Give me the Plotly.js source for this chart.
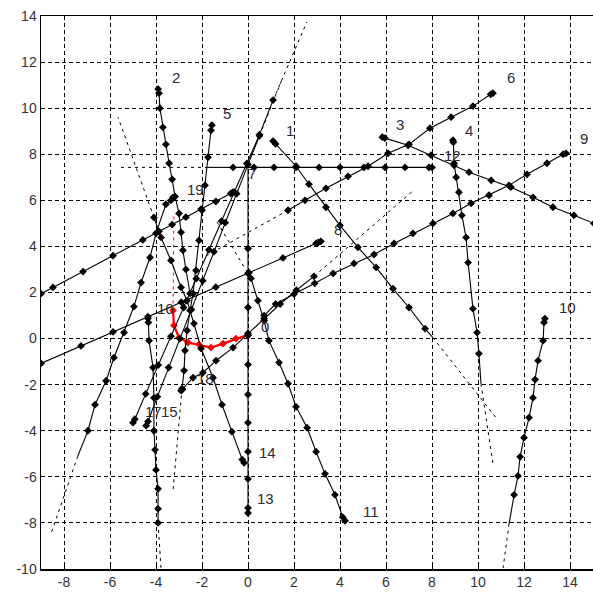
<!DOCTYPE html>
<html><head><meta charset="utf-8">
<script src="https://cdn.plot.ly/plotly-3.0.1.min.js"></script>
<style>html,body{margin:0;padding:0;background:#fff}#chart{width:593px;height:595px}</style>
</head><body><div id="chart"></div>
<script>
// ---- track data (x, y in axis units) ----
const track0X = [0, -0.52, -1.09, -1.61, -2.13, -2.61, -3.0, -3.22, -3.26];
const track0Y = [0.17, 0.0, -0.22, -0.39, -0.26, -0.17, 0.04, 0.57, 1.22];
const pred0X = [-3.26, -3.22];
const pred0Y = [1.22, 5.48];

const track1X = [1.09, 1.2, 2.09, 2.65, 3.39, 4.0, 4.78, 5.57, 6.30, 7.0, 7.70];
const track1Y = [8.57, 8.45, 7.48, 6.70, 5.70, 4.91, 3.96, 3.09, 2.17, 1.35, 0.43];
const tail1X = [7.70, 8.04];
const tail1Y = [0.43, 0.04];
const pred1X = [8.04, 10.78];
const pred1Y = [0.04, -3.43];

const track2X = [-3.91, -3.87, -3.83, -3.70, -3.57, -3.43, -3.30, -3.17, -3.0, -2.91, -2.83, -2.70, -2.52];
const track2Y = [10.83, 10.65, 10.0, 9.17, 8.43, 7.61, 6.91, 6.17, 5.43, 4.61, 3.83, 3.0, 1.96];

const track3X = [5.84, 5.95, 6.96, 7.96, 8.96, 9.61, 10.57, 11.43, 12.39, 13.26, 14.17, 15.04];
const track3Y = [8.74, 8.70, 8.39, 7.96, 7.52, 7.22, 6.87, 6.57, 6.13, 5.70, 5.35, 5.0];

const track4X = [8.91, 8.93, 8.96, 9.05, 9.17, 9.30, 9.48, 9.57, 9.78, 9.96, 10.04];
const track4Y = [8.61, 8.52, 7.61, 7.0, 6.35, 5.35, 4.39, 3.30, 1.30, 0.26, -0.65];
const tail4X = [10.04, 10.13];
const tail4Y = [-0.65, -1.96];
const pred4X = [10.13, 10.65];
const pred4Y = [-1.96, -5.43];

const track5X = [-1.57, -1.61, -1.74, -1.87, -2.0, -2.13, -2.26, -2.39, -2.52, -2.65, -2.74, -2.78, -2.87];
const track5Y = [9.26, 9.04, 7.87, 6.65, 5.57, 4.26, 2.96, 1.96, 1.22, 0.35, -0.52, -1.39, -2.17];
const pred5X = [-2.87, -3.26];
const pred5Y = [-2.17, -6.61];

const track6X = [10.65, 10.55, 9.78, 8.83, 7.91, 7.0, 6.09, 5.22, 4.35, 3.39, 2.48, 1.74];
const track6Y = [10.65, 10.6, 10.09, 9.61, 9.13, 8.43, 8.04, 7.48, 7.04, 6.52, 6.0, 5.57];
const pred6X = [1.74, -1.8];
const pred6Y = [5.57, 3.6];

const track7X = [-0.65, -0.75, -1.4, -2.04, -2.7, -3.3, -3.87, -4.57, -5.87, -7.17, -8.48, -9.0];
const track7Y = [6.35, 6.30, 5.95, 5.62, 5.27, 4.95, 4.65, 4.28, 3.60, 2.91, 2.22, 1.95];

const track8X = [3.17, 3.05, 2.96, 1.52, 0.04, -1.4, -2.9, -4.35, -5.87, -7.26, -9.0];
const track8Y = [4.22, 4.17, 4.13, 3.50, 2.86, 2.23, 1.58, 0.95, 0.29, -0.32, -1.08];

const track9X = [13.83, 13.7, 13.0, 12.13, 11.35, 10.48, 9.70, 8.91, 8.04, 7.17, 6.35, 5.48, 4.61, 3.70, 2.9, 2.0, 1.2, 0.7];
const track9Y = [8.04, 8.0, 7.61, 7.13, 6.65, 6.22, 5.87, 5.43, 5.0, 4.57, 4.13, 3.65, 3.26, 2.83, 2.4, 1.93, 1.5, 1.0];

const track10X = [12.91, 12.87, 12.83, 12.61, 12.48, 12.39, 12.22, 12.0, 11.83, 11.74, 11.57];
const track10Y = [0.87, 0.7, -0.09, -0.96, -1.78, -2.57, -3.43, -4.30, -5.13, -5.96, -6.78];
const tail10X = [11.57, 11.35];
const tail10Y = [-6.78, -8.04];
const pred10X = [11.35, 11.09];
const pred10Y = [-8.04, -9.96];

const track11X = [4.22, 4.12, 3.78, 3.35, 2.96, 2.57, 2.09, 1.74, 1.35, 0.91, 0.70, 0.43, 0.13];
const track11Y = [-7.91, -7.75, -6.78, -5.87, -4.91, -3.87, -2.96, -1.96, -1.04, -0.09, 0.78, 1.65, 2.61];
const pred11X = [0.13, -1.39];
const pred11Y = [2.61, 5.13];

const track12X = [8.0, 7.87, 6.83, 5.96, 5.04, 4.0, 3.09, 2.09, 1.13, 0.26, -0.65];
const track12Y = [7.43, 7.43, 7.43, 7.43, 7.43, 7.43, 7.43, 7.43, 7.43, 7.43, 7.43];
const tail12X = [-0.65, -1.74];
const tail12Y = [7.43, 7.43];
const pred12X = [-1.74, -5.52];
const pred12Y = [7.43, 7.43];

const track13X = [0, 0, 0, 0, 0, 0, 0, 0, 0, 0, 0];
const track13Y = [-7.57, -7.35, -6.09, -4.91, -3.65, -2.43, -1.13, 0.13, 1.35, 2.83, 3.91];
const tail13X = [0, 0];
const tail13Y = [3.91, 7.39];

const track14X = [-0.17, -0.25, -0.70, -1.13, -1.52, -2.04, -2.35, -2.65, -2.91, -3.35, -3.78, -4.09];
const track14Y = [-5.39, -5.25, -4.04, -2.87, -1.70, -0.43, 0.65, 1.65, 2.22, 3.39, 4.39, 5.26];
const pred14X = [-4.09, -5.65];
const pred14Y = [5.26, 9.61];

const track15X = [-4.43, -4.35, -3.94, -3.45, -2.96, -2.46, -1.97, -1.48, -0.99, -0.49, 0.0, 0.5];
const track15Y = [-3.78, -3.6, -2.52, -1.26, 0.0, 1.26, 2.51, 3.77, 5.03, 6.29, 7.55, 8.8];
const pred15X = [0.5, 1.5];
const pred15Y = [8.8, 11.3];

const track16X = [-4.35, -4.33, -4.30, -4.13, -4.09, -4.09, -4.04, -4.0, -3.91, -3.91, -3.91];
const track16Y = [0.87, 0.7, -0.09, -1.26, -2.57, -4.0, -4.83, -5.70, -6.52, -7.39, -8.0];
const pred16X = [-3.91, -3.78];
const pred16Y = [-8.0, -10.0];

const track17X = [-5.0, -4.92, -4.45, -3.9, -3.35, -2.8, -2.25, -1.7, -1.15, -0.6, -0.05, 0.5, 1.09];
const track17Y = [-3.65, -3.5, -2.4, -1.15, 0.1, 1.35, 2.6, 3.85, 5.1, 6.35, 7.6, 8.85, 10.35];
const pred17X = [1.09, 2.56];
const pred17Y = [10.35, 13.74];

const track18X = [-2.91, -2.85, -2.39, -1.96, -1.39, -0.65, 0.0, 0.70, 1.4, 2.1, 2.87];
const track18Y = [-2.26, -2.2, -1.70, -1.48, -0.96, -0.39, 0.22, 0.87, 1.5, 2.1, 2.70];
const pred18X = [2.87, 7.22];
const pred18Y = [2.70, 6.45];

const track19X = [-3.26, -3.35, -3.57, -4.0, -4.26, -4.65, -4.96, -5.39, -5.83, -6.17, -6.65, -6.96];
const track19Y = [6.13, 6.0, 5.83, 4.57, 3.52, 2.43, 1.39, 0.26, -0.83, -1.83, -2.87, -4.0];
const tail19X = [-6.96, -7.4];
const tail19Y = [-4.0, -5.1];
const pred19X = [-7.4, -8.57];
const pred19Y = [-5.1, -8.48];

const labelText = ['0','1','2','3','4','5','6','7','8','9','10','11','12','13','14','15','16','17','18','19'];
const labelX = [0.74, 1.83, -3.13, 6.61, 9.61, -0.91, 11.43, 0.17, 3.91, 14.61, 13.91, 5.35, 8.91, 0.78, 0.83, -3.43, -3.57, -4.09, -1.83, -2.30];
const labelY = [0.52, 9.04, 11.35, 9.30, 9.04, 9.78, 11.35, 7.17, 4.74, 8.70, 1.35, -7.52, 7.96, -6.96, -4.96, -3.17, 1.30, -3.17, -1.74, 6.48];

const xTicks = [-8, -6, -4, -2, 0, 2, 4, 6, 8, 10, 12, 14];
const yTicks = [-10, -8, -6, -4, -2, 0, 2, 4, 6, 8, 10, 12, 14];

// ---- build traces ----
const tracks = [
  [track0X, track0Y, null, null, pred0X, pred0Y],
  [track1X, track1Y, tail1X, tail1Y, pred1X, pred1Y],
  [track2X, track2Y, null, null, null, null],
  [track3X, track3Y, null, null, null, null],
  [track4X, track4Y, tail4X, tail4Y, pred4X, pred4Y],
  [track5X, track5Y, null, null, pred5X, pred5Y],
  [track6X, track6Y, null, null, pred6X, pred6Y],
  [track7X, track7Y, null, null, null, null],
  [track8X, track8Y, null, null, null, null],
  [track9X, track9Y, null, null, null, null],
  [track10X, track10Y, tail10X, tail10Y, pred10X, pred10Y],
  [track11X, track11Y, null, null, pred11X, pred11Y],
  [track12X, track12Y, tail12X, tail12Y, pred12X, pred12Y],
  [track13X, track13Y, tail13X, tail13Y, null, null],
  [track14X, track14Y, null, null, pred14X, pred14Y],
  [track15X, track15Y, null, null, pred15X, pred15Y],
  [track16X, track16Y, null, null, pred16X, pred16Y],
  [track17X, track17Y, null, null, pred17X, pred17Y],
  [track18X, track18Y, null, null, pred18X, pred18Y],
  [track19X, track19Y, tail19X, tail19Y, pred19X, pred19Y]
];

const data = [];
tracks.forEach((t, i) => {
  const col = i === 0 ? '#ff0000' : '#000000';
  if (t[4]) data.push({x: t[4], y: t[5], mode: 'lines', line: {color: col, width: 1, dash: '3px,4px'}, hoverinfo: 'skip', showlegend: false});
  if (t[2]) data.push({x: t[2], y: t[3], mode: 'lines', line: {color: col, width: 1.1}, hoverinfo: 'skip', showlegend: false});
});
tracks.forEach((t, i) => {
  const col = i === 0 ? '#ff0000' : '#000000';
  data.push({x: t[0], y: t[1], mode: 'lines+markers', line: {color: col, width: i === 0 ? 2.2 : 1.1},
    marker: {symbol: 'diamond', size: 6, color: col}, showlegend: false});
});

const annotations = labelText.map((s, i) => ({x: labelX[i], y: labelY[i], xref: 'x', yref: 'y', text: s,
  showarrow: false, font: {family: 'Arial, Liberation Sans, sans-serif', size: 15, color: '#2b2b3b'}}));

const axisBase = {
  showgrid: true, gridcolor: '#000000', gridwidth: 1, griddash: '4px,3px',
  zeroline: false, showline: true, linecolor: '#000000', linewidth: 1.5, mirror: true,
  ticks: 'inside', ticklen: 4, tickcolor: '#000', tickfont: {family: 'Arial, Liberation Sans, sans-serif', size: 14, color: '#333333'}
};

const layout = {
  width: 593, height: 595,
  margin: {l: 41, r: 0, t: 16, b: 26},
  paper_bgcolor: '#ffffff', plot_bgcolor: '#ffffff',
  xaxis: Object.assign({}, axisBase, {range: [-9, 15], tickvals: xTicks, ticktext: xTicks.map(String)}),
  yaxis: Object.assign({}, axisBase, {range: [-10, 14], tickvals: yTicks, ticktext: yTicks.map(String)}),
  annotations: annotations,
  showlegend: false
};

Plotly.newPlot('chart', data, layout, {staticPlot: true});
</script></body></html>
